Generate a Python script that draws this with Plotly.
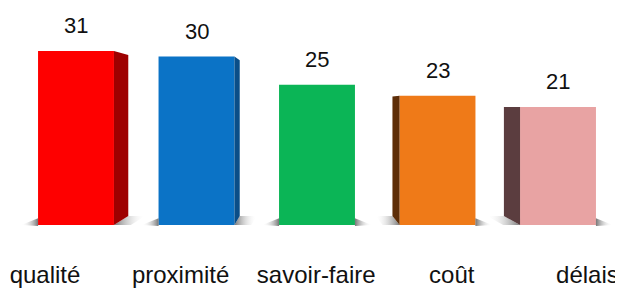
import plotly.graph_objects as go

# ---- data ----
categories = ["qualité", "proximité", "savoir-faire", "coût", "délais"]
values = [31, 30, 25, 23, 21]
front_colors = ["#FE0000", "#0B73C6", "#0BB556", "#EF7A18", "#E8A3A3"]
side_colors = ["#9E0000", "#0A4E88", "#0A7A3A", "#5E2E08", "#5B3D3F"]

# ---- style / perspective constants ----
FONT = "Liberation Sans, Arial, sans-serif"
BAR_W = 0.63
VX, VY, S = 1.9, 21.4, 0.925      # vanishing point (data units) and depth scale
SH_M = 0.14                        # shadow length (x units)
WEDGE_H = 1.2                      # wedge shadow height (y units)
SHADOW = "rgba(95,95,95,0.85)"
CLEAR = "rgba(255,255,255,0)"

pos = list(range(len(categories)))

fig = go.Figure()

# front faces
fig.add_trace(go.Bar(
    x=pos, y=values, width=BAR_W,
    marker=dict(color=front_colors, line=dict(width=0)),
    hoverinfo="skip",
))


def back(x, y):
    return VX + S * (x - VX), VY + S * (y - VY)


def poly(xs, ys, **kw):
    fig.add_trace(go.Scatter(x=xs + [xs[0]], y=ys + [ys[0]], mode="none",
                             fill="toself", hoverinfo="skip", **kw))


def grad(left_to_right_dark):
    cs = [[0, CLEAR], [1, SHADOW]] if left_to_right_dark else [[0, SHADOW], [1, CLEAR]]
    return dict(type="horizontal", colorscale=cs)


# shadows
for c, v in zip(pos, values):
    xl, xr = c - BAR_W / 2, c + BAR_W / 2
    if xl > VX:  # side face on the left -> parallelogram shadow
        xb, yb = back(xl, 0)
        poly([xb - SH_M, xb, xl, xl - SH_M], [yb, yb, 0, 0], fillgradient=grad(True))
    else:
        poly([xl - SH_M, xl, xl], [0, -0.2, WEDGE_H], fillgradient=grad(True))
    if xr < VX:
        xb, yb = back(xr, 0)
        poly([xr, xb, xb + SH_M, xr + SH_M], [0, yb, yb, 0], fillgradient=grad(False))
    else:
        poly([xr, xr, xr + SH_M], [WEDGE_H, -0.2, 0], fillgradient=grad(False))

# side faces
for c, v, sc in zip(pos, values, side_colors):
    xl, xr = c - BAR_W / 2, c + BAR_W / 2
    edge = None
    if xr < VX:
        edge = xr
    elif xl > VX:
        edge = xl
    if edge is None:
        continue
    xb, yb0 = back(edge, 0)
    _, yb1 = back(edge, v)
    poly([edge, edge, xb, xb], [0, v, yb1, yb0], fillcolor=sc)

# invisible trace on the label axis
fig.add_trace(go.Scatter(x=pos, y=values, xaxis="x2", mode="none", hoverinfo="skip"))

# value labels
for c, v in zip(pos, values):
    fig.add_annotation(x=c, y=v, xref="x", yref="y", text=str(v), showarrow=False,
                       yanchor="bottom", yshift=11,
                       font=dict(family=FONT, size=22, color="#111111"))

# page has an 8px body margin: the figure is placed at (8, 8)
OFF = 8
PX_X = 120.5
PX_Y = 5.615
W, H = 623 - OFF, 289 - OFF
B = 39
plot_h = H - B
base_px = 225 - OFF
x0_px = 76 - OFF
lab0_px = 45 - OFF

fig.update_layout(
    width=W, height=H,
    margin=dict(l=0, r=0, t=0, b=B, autoexpand=False),
    paper_bgcolor="white", plot_bgcolor="white",
    showlegend=False,
    xaxis=dict(range=[-x0_px / PX_X, (W - x0_px) / PX_X], visible=False,
               fixedrange=True, automargin=False),
    xaxis2=dict(overlaying="x", anchor="y", side="bottom", automargin=False,
                range=[-lab0_px / 135.6, (W - lab0_px) / 135.6],
                tickvals=pos, ticktext=categories, showgrid=False, zeroline=False,
                showline=False, ticks="", ticklabelstandoff=8,
                tickfont=dict(family=FONT, size=24, color="#111111")),
    yaxis=dict(range=[-(plot_h - base_px) / PX_Y, base_px / PX_Y], visible=False,
               automargin=False),
)

fig.write_html("out.html", config={"displayModeBar": False})
